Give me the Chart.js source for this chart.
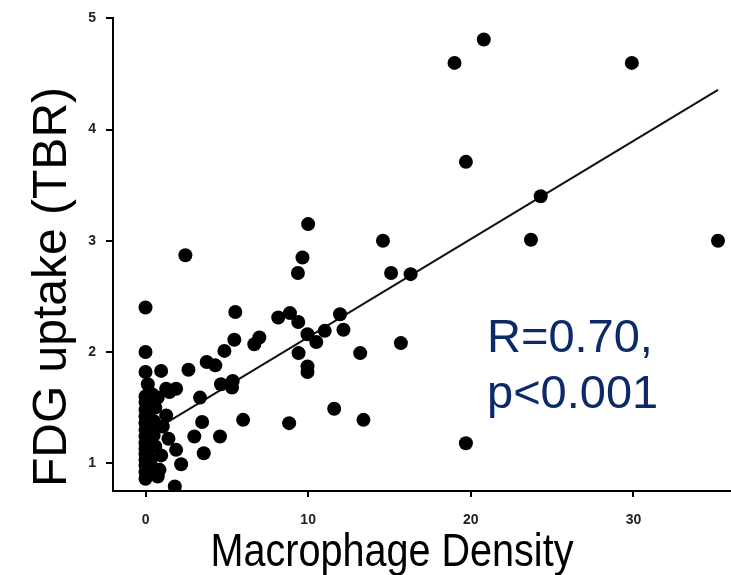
<!DOCTYPE html>
<html>
<head>
<meta charset="utf-8">
<script src="https://cdn.jsdelivr.net/npm/chart.js@4/dist/chart.umd.min.js"></script>
<style>
  html, body { margin: 0; padding: 0; background: #fff; }
  #chart { display: block; }
</style>
</head>
<body>
<canvas id="chart" width="731" height="575"></canvas>
<script>
// macrophage density (x) vs FDG uptake TBR (y)
const densityValues = [
  20.8, 19.0, 29.9, 19.7, 24.3, 23.7, 35.2, 14.6, 15.1, 16.3, 15.7, 19.7,
  2.45, 10.0, 9.65, 9.37,
  5.52, 8.16, 8.88, 9.39, 11.96, 11.02, 12.17, 9.96, 10.5, 9.41, 13.2, 9.96, 9.96, 11.6, 13.4, 8.83, 6.0,
  5.46, 6.69, 7.0, 4.85, 3.76, 4.29, 2.64,
  5.36, 4.64, 5.32, 3.35, 3.48, 3.0, 4.58, 3.58, 2.19, 1.88, 1.41, 1.8, 1.27, 1.06, 1.47, 1.88, 1.27, 0.96, 0.75, 0.14,
  0.75, 0.86, 0.96, 0.6, 0.5, 0.6, 0.5, 0.3, 0.4, 0.3,
  0, 0, 0, 0, 0, 0, 0, 0, 0, 0, 0, 0, 0, 0, 0, 0, 0, 0.1, 0.2, 0.1, 0.2, 0.15
];
const tbrValues = [
  4.81, 4.60, 4.60, 3.71, 3.40, 3.01, 3.0, 3.0, 2.71, 2.70, 2.08, 1.18,
  2.87, 3.15, 2.85, 2.71,
  2.36, 2.31, 2.35, 2.27, 2.34, 2.19, 2.20, 2.16, 2.09, 1.99, 1.99, 1.87, 1.82, 1.49, 1.39, 1.36, 1.39,
  2.11, 2.07, 2.13, 2.01, 1.91, 1.88, 1.84,
  1.74, 1.71, 1.68, 1.59, 1.37, 1.24, 1.24, 1.09, 0.99, 1.12, 1.22, 0.79, 1.43, 1.33, 1.64, 1.67, 1.67, 1.83, 1.59, 1.71,
  0.88, 0.94, 1.07, 1.15, 1.25, 1.5, 1.38, 1.0, 1.62, 1.3,
  2.40, 2.0, 1.82, 0.86, 0.92, 0.98, 1.03, 1.08, 1.13, 1.18, 1.24, 1.3, 1.36, 1.42, 1.48, 1.55, 1.6, 1.12, 1.05, 1.45, 1.2, 0.95
];

// regression line
const fitSlope = 0.0883;
const fitIntercept = 1.25;
const fitRange = [1.35, 35.2];

const xTicks = [0, 10, 20, 30];
const yTicks = [1, 2, 3, 4, 5];

const xTitle = 'Macrophage Density';
const yTitle = 'FDG uptake (TBR)';
const statLines = ['R=0.70,', 'p<0.001'];

const FONT = '"Liberation Sans", Arial, Helvetica, sans-serif';

const points = densityValues.map((x, i) => ({ x: x, y: tbrValues[i] }));
const fitLine = fitRange.map((x) => ({ x: x, y: fitIntercept + fitSlope * x }));

const textPlugin = {
  id: 'textPlugin',
  afterDraw(chart) {
    const ctx = chart.ctx;
    ctx.save();
    ctx.fillStyle = '#000';

    // y title, rotated
    ctx.save();
    ctx.translate(66, 287);
    ctx.rotate(-Math.PI / 2);
    ctx.font = '48px ' + FONT;
    ctx.textAlign = 'center';
    ctx.textBaseline = 'alphabetic';
    ctx.fillText(yTitle, 0, 0);
    ctx.restore();

    // x title, a bit narrow like the original
    ctx.save();
    ctx.translate(392, 566);
    ctx.scale(0.86, 1);
    ctx.font = '46px ' + FONT;
    ctx.textAlign = 'center';
    ctx.textBaseline = 'alphabetic';
    ctx.fillText(xTitle, 0, 0);
    ctx.restore();

    // stats text
    ctx.fillStyle = '#0c2a6a';
    ctx.font = '47px ' + FONT;
    ctx.textAlign = 'left';
    ctx.textBaseline = 'alphabetic';
    ctx.fillText(statLines[0], 487, 352);
    ctx.fillText(statLines[1], 487, 408);
    ctx.restore();
  }
};

const axisStyle = {
  grid: { display: true, drawOnChartArea: false, drawTicks: true, tickLength: 7, color: '#000', lineWidth: 2 },
  border: { display: true, color: '#000', width: 2 }
};

new Chart(document.getElementById('chart'), {
  type: 'scatter',
  data: {
    datasets: [
      {
        data: points,
        backgroundColor: '#000',
        borderWidth: 0,
        pointRadius: 7,
        pointHoverRadius: 7
      },
      {
        type: 'line',
        data: fitLine,
        borderColor: '#111',
        borderWidth: 2,
        pointRadius: 0,
        fill: false
      }
    ]
  },
  options: {
    responsive: false,
    animation: false,
    layout: { autoPadding: false, padding: { top: 15, right: 0, left: 0, bottom: 0 } },
    plugins: { legend: { display: false }, tooltip: { enabled: false } },
    scales: {
      x: {
        type: 'linear',
        min: -2,
        max: 36,
        ...axisStyle,
        grid: { ...axisStyle.grid, tickLength: 6 },
        ticks: { color: '#222', padding: 15, font: { family: FONT, size: 14, weight: 'bold' } },
        afterBuildTicks: (scale) => { scale.ticks = xTicks.map((v) => ({ value: v })); },
        afterFit: (scale) => { scale.height = 84; }
      },
      y: {
        type: 'linear',
        min: 0.75,
        max: 5,
        ...axisStyle,
        ticks: { color: '#222', padding: 10, font: { family: FONT, size: 14, weight: 'bold' } },
        afterBuildTicks: (scale) => { scale.ticks = yTicks.map((v) => ({ value: v })); },
        afterFit: (scale) => { scale.width = 113; }
      }
    }
  },
  plugins: [textPlugin]
});
</script>
</body>
</html>
